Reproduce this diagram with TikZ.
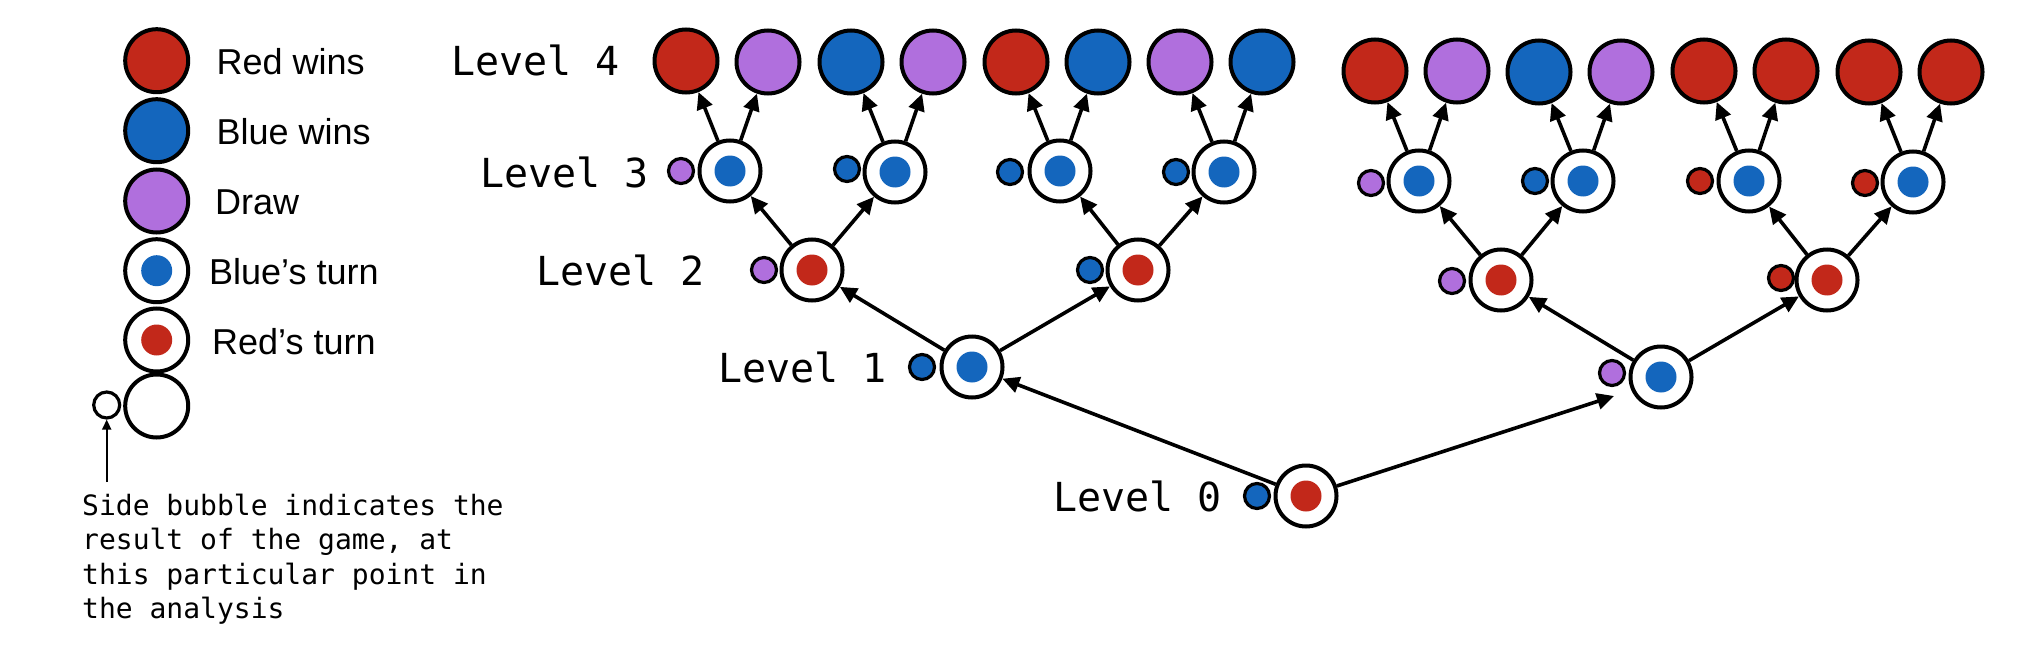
\documentclass[tikz,border=0pt]{standalone}
\usepackage{fontspec}
\setmainfont{Liberation Sans}
\newfontfamily\monofam{DejaVu Sans Mono}
\usetikzlibrary{arrows.meta}
\definecolor{cred}{RGB}{194,40,26}
\definecolor{cblue}{RGB}{20,102,189}
\definecolor{cpurple}{RGB}{176,111,221}
\begin{document}
\begin{tikzpicture}[x=1pt,y=-1pt,
 leaf/.style={circle, draw=black, line width=4pt, fill=#1, minimum size=63pt, inner sep=0pt},
 turn/.style={circle, draw=black, line width=4pt, fill=white, minimum size=61pt, inner sep=0pt,
   path picture={\fill[#1] (path picture bounding box.center) circle (15.5pt);}},
 bubble/.style={circle, draw=black, line width=3.2pt, fill=#1, minimum size=25pt, inner sep=0pt},
 conn/.style={line width=3.6pt, -{Triangle[length=17pt,width=16pt]}},
 lvl/.style={font=\monofam\fontsize{40}{48}\selectfont, inner sep=0pt, anchor=base east},
 leg/.style={font=\fontsize{36}{43}\selectfont, inner sep=0pt, anchor=base west},
 note/.style={font=\monofam\fontsize{28}{34}\selectfont, inner sep=0pt, anchor=base west}]
\useasboundingbox (0,0) rectangle (2042,650);
\fill[white] (0,0) rectangle (2042,650);

% ---------- legend ----------
\node[leaf=cred] (lgred) at (156.7,60.7) {};
\node[leaf=cblue] (lgblue) at (156.7,130.7) {};
\node[leaf=cpurple] (lgdraw) at (156.7,201) {};
\node[turn=cblue, minimum size=63pt] (lgbt) at (156.7,270.7) {};
\node[turn=cred, minimum size=63pt] (lgrt) at (156.7,340) {};
\node[leaf=white] (lgempty) at (156.7,406) {};
\node[bubble=white, minimum size=26pt] (lgbub) at (106.7,405) {};
\node[leg] (tred) at (216.5,75) {Red wins};
\node[leg] (tblue) at (216.5,145) {Blue wins};
\node[leg] (tdraw) at (215,214.5) {Draw};
\node[leg] (tbt) at (209,284.5) {Blue’s turn};
\node[leg] (trt) at (212,354) {Red’s turn};
\coordinate (lgstart) at (106.7,482);
\draw[line width=2pt, -{Triangle[length=10pt,width=9pt]}] (lgstart) -- (lgbub);
\node[note] (note1) at (82,515) {Side bubble indicates the};
\node[note] (note2) at (82,549.5) {result of the game, at};
\node[note] (note3) at (82,584) {this particular point in};
\node[note] (note4) at (82,618.5) {the analysis};

% ---------- level labels ----------
\node[lvl] (lv4) at (620,76) {Level 4};
\node[lvl] (lv3) at (649,187) {Level 3};
\node[lvl] (lv2) at (705,285) {Level 2};
\node[lvl] (lv1) at (887,382) {Level 1};
\node[lvl] (lv0) at (1222,511) {Level 0};

% ---------- level 4 leaves ----------
\node[leaf=cred]    (l1)  at (686,61) {};
\node[leaf=cpurple] (l2)  at (768,62) {};
\node[leaf=cblue]   (l3)  at (851,62) {};
\node[leaf=cpurple] (l4)  at (933,62) {};
\node[leaf=cred]    (l5)  at (1016,62) {};
\node[leaf=cblue]   (l6)  at (1098,62) {};
\node[leaf=cpurple] (l7)  at (1180,62) {};
\node[leaf=cblue]   (l8)  at (1262,62) {};
\node[leaf=cred]    (l9)  at (1375,71) {};
\node[leaf=cpurple] (l10) at (1457,71) {};
\node[leaf=cblue]   (l11) at (1539,72) {};
\node[leaf=cpurple] (l12) at (1621,72) {};
\node[leaf=cred]    (l13) at (1704,71) {};
\node[leaf=cred]    (l14) at (1786,71) {};
\node[leaf=cred]    (l15) at (1869,72) {};
\node[leaf=cred]    (l16) at (1951,72) {};

% ---------- level 3 ----------
\node[turn=cblue] (n3a) at (730,171) {};
\node[turn=cblue] (n3b) at (895,172) {};
\node[turn=cblue] (n3c) at (1060,171) {};
\node[turn=cblue] (n3d) at (1224,172) {};
\node[turn=cblue] (n3e) at (1419,181) {};
\node[turn=cblue] (n3f) at (1583,181) {};
\node[turn=cblue] (n3g) at (1749,181) {};
\node[turn=cblue] (n3h) at (1913,182) {};
\node[bubble=cpurple] (b3a) at (681,171) {};
\node[bubble=cblue]   (b3b) at (847,169) {};
\node[bubble=cblue]   (b3c) at (1010,172) {};
\node[bubble=cblue]   (b3d) at (1176,172) {};
\node[bubble=cpurple] (b3e) at (1371,183) {};
\node[bubble=cblue]   (b3f) at (1535,181) {};
\node[bubble=cred]    (b3g) at (1700,181) {};
\node[bubble=cred]    (b3h) at (1865,183) {};

% ---------- level 2 ----------
\node[turn=cred] (n2a) at (812,270) {};
\node[turn=cred] (n2b) at (1138,270) {};
\node[turn=cred] (n2c) at (1501,280) {};
\node[turn=cred] (n2d) at (1827,280) {};
\node[bubble=cpurple] (b2a) at (764,270) {};
\node[bubble=cblue]   (b2b) at (1090,270) {};
\node[bubble=cpurple] (b2c) at (1452,281) {};
\node[bubble=cred]    (b2d) at (1781,278) {};

% ---------- level 1 ----------
\node[turn=cblue] (n1a) at (972,367) {};
\node[turn=cblue] (n1b) at (1661,377) {};
\node[bubble=cblue]   (b1a) at (922,367) {};
\node[bubble=cpurple] (b1b) at (1612,373) {};

% ---------- level 0 ----------
\node[turn=cred] (n0) at (1306,496) {};
\node[bubble=cblue] (b0) at (1257,496) {};

% ---------- connectors ----------
\coordinate (n1bin) at (1614,396);
\draw[conn] (n0) -- (n1a);
\draw[conn] (n0) -- (n1bin);
\draw[conn] (n1a) -- (n2a);
\draw[conn] (n1a) -- (n2b);
\draw[conn] (n1b) -- (n2c);
\draw[conn] (n1b) -- (n2d);
\draw[conn] (n2a) -- (n3a);
\draw[conn] (n2a) -- (n3b);
\draw[conn] (n2b) -- (n3c);
\draw[conn] (n2b) -- (n3d);
\draw[conn] (n2c) -- (n3e);
\draw[conn] (n2c) -- (n3f);
\draw[conn] (n2d) -- (n3g);
\draw[conn] (n2d) -- (n3h);
\draw[conn] (n3a) -- (l1);
\draw[conn] (n3a) -- (l2);
\draw[conn] (n3b) -- (l3);
\draw[conn] (n3b) -- (l4);
\draw[conn] (n3c) -- (l5);
\draw[conn] (n3c) -- (l6);
\draw[conn] (n3d) -- (l7);
\draw[conn] (n3d) -- (l8);
\draw[conn] (n3e) -- (l9);
\draw[conn] (n3e) -- (l10);
\draw[conn] (n3f) -- (l11);
\draw[conn] (n3f) -- (l12);
\draw[conn] (n3g) -- (l13);
\draw[conn] (n3g) -- (l14);
\draw[conn] (n3h) -- (l15);
\draw[conn] (n3h) -- (l16);
\end{tikzpicture}
\end{document}
